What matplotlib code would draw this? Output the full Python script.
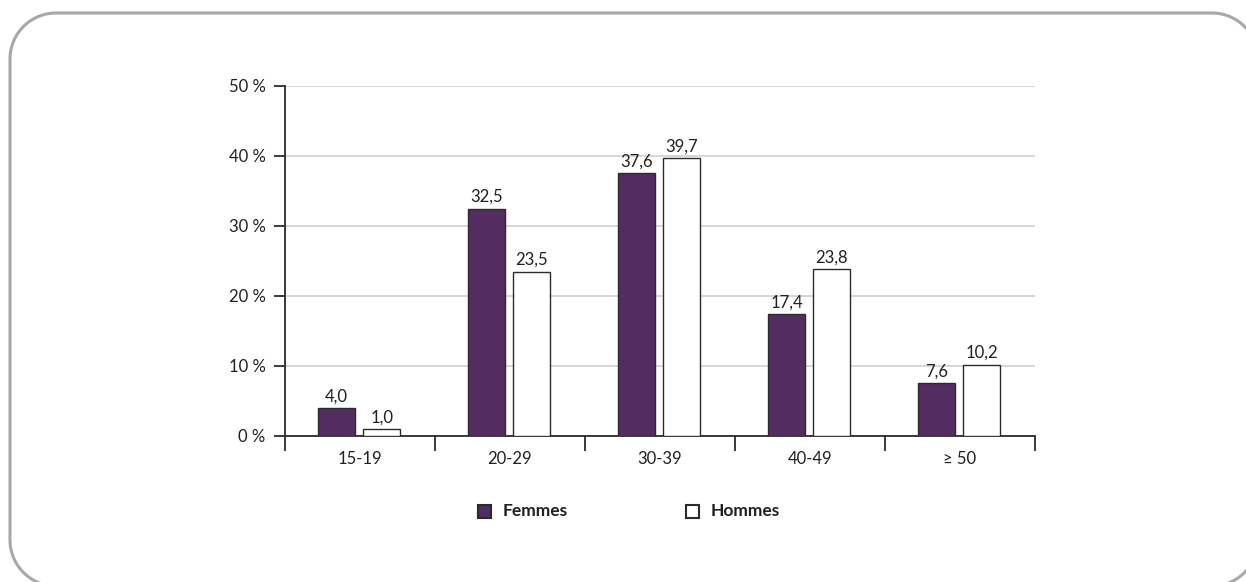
import matplotlib
matplotlib.use("Agg")
import matplotlib.pyplot as plt
from matplotlib.patches import PathPatch, Rectangle
from matplotlib.path import Path
import numpy as np

categories = ["15-19", "20-29", "30-39", "40-49", "\u2265 50"]
femmes = [4.0, 32.5, 37.6, 17.4, 7.6]
hommes = [1.0, 23.5, 39.7, 23.8, 10.2]
series_names = ["Femmes", "Hommes"]
y_ticks = [0, 10, 20, 30, 40, 50]

W, H = 1246, 582
fig = plt.figure(figsize=(W / 100, H / 100), dpi=100)
plt.rcParams['font.family'] = ['Lato', 'DejaVu Sans']
FS = 12
TXT = "#231f20"
purple = "#532d62"
edge = "#2b2b2b"


def px(xp, yp):
    """Pixel position (from top-left) to figure fraction."""
    return xp / W, 1 - yp / H


# rounded frame around the chart, built in pixel units
def rounded_rect(x0, y0, x1, y1, r, n=24):
    pts = []
    corners = [(x1 - r, y0 + r, -90, 0), (x1 - r, y1 - r, 0, 90),
               (x0 + r, y1 - r, 90, 180), (x0 + r, y0 + r, 180, 270)]
    for cx, cy, a0, a1 in corners:
        for a in np.linspace(np.radians(a0), np.radians(a1), n):
            pts.append(px(cx + r * np.cos(a), cy + r * np.sin(a)))
    pts.append(pts[0])
    return Path(pts)


frame = PathPatch(rounded_rect(10, 13, 1258, 586, 46), transform=fig.transFigure,
                  fill=False, edgecolor="#a8a8aa", linewidth=2.2)
fig.patches.append(frame)

ax = fig.add_axes([285 / W, 1 - 436 / H, 750 / W, 350 / H])
x = np.arange(len(categories))
bw = 0.247
b1 = ax.bar(x - 0.155, femmes, bw, color=purple, edgecolor=edge, linewidth=1.0, zorder=3)
b2 = ax.bar(x + 0.145, hommes, bw, color="white", edgecolor=edge, linewidth=1.0, zorder=3)

for bars, vals in ((b1, femmes), (b2, hommes)):
    for r, v in zip(bars, vals):
        ax.text(r.get_x() + r.get_width() / 2, v + 0.5, f"{v:.1f}".replace(".", ","),
                ha="center", va="bottom", fontsize=FS, color=TXT)

ax.set_xlim(-0.5, len(categories) - 0.5)
ax.set_ylim(0, 50)
ax.set_yticks(y_ticks)
ax.set_yticklabels([f"{t} %" for t in y_ticks], fontsize=FS, color=TXT)
ax.yaxis.grid(True, color="#d0d0d0", linewidth=1.2, zorder=0)
ax.set_axisbelow(True)

# category boundary ticks below the axis
ax.set_xticks(np.arange(-0.5, len(categories), 1.0))
ax.set_xticklabels([])
ax.set_xticks(x, minor=True)
ax.set_xticklabels(categories, minor=True, fontsize=FS, color=TXT)
ax.tick_params(axis="x", which="major", length=11, width=1.3, color=edge)
ax.tick_params(axis="x", which="minor", length=0, pad=11)
ax.tick_params(axis="y", length=8, width=1.3, color=edge, pad=6)

for s in ("top", "right"):
    ax.spines[s].set_visible(False)
for s in ("left", "bottom"):
    ax.spines[s].set_color(edge)
    ax.spines[s].set_linewidth(1.3)

# legend: square swatch followed by bold label
legend_x = [478, 686]
legend_fill = [purple, "white"]
for lx, name, fc in zip(legend_x, series_names, legend_fill):
    sx, sy = px(lx, 518)
    fig.patches.append(Rectangle((sx, sy), 13 / W, 13 / H, transform=fig.transFigure,
                                 facecolor=fc, edgecolor=edge, linewidth=1.5))
    tx, ty = px(lx + 25, 511.5)
    fig.text(tx, ty, name, ha="left", va="center", fontsize=12.5, fontweight="bold",
             color=TXT)

fig.savefig("out.png", dpi=100)
